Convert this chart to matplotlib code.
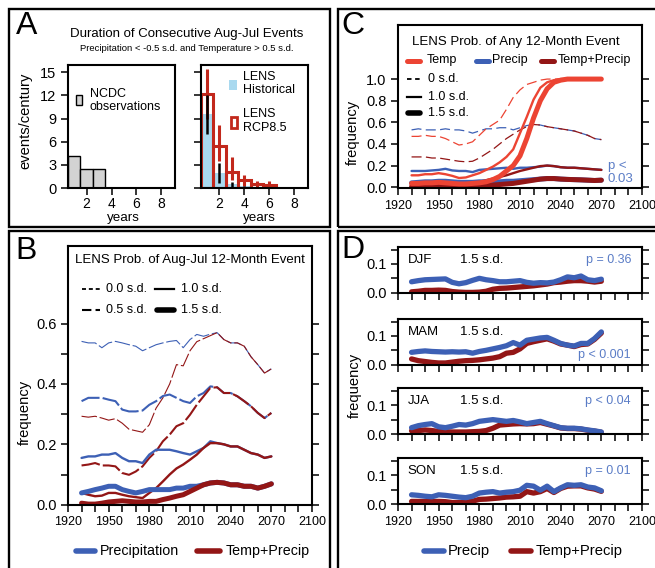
import numpy as np
import matplotlib
matplotlib.use('Agg')
import matplotlib.pyplot as plt
from matplotlib.lines import Line2D
from matplotlib.patches import Rectangle

plt.rcParams['font.family'] = ['Liberation Sans', 'DejaVu Sans']

W, H = 655, 568
BLUE = '#3d60b5'
DRED = '#931616'
RED = '#ec4433'
PBLUE = '#5a7cc6'
HRED = '#c2281c'
LBLUE = '#a9d9ef'

# ---- panel A data (events/century by duration in years)
dur = [1, 2, 3, 4, 5, 6]
ncdc = [4.1, 2.4, 2.4]
hist = [9.6, 1.9, 0.5, 0.2, 0.0, 0.0]
hist_lo = [7.0, 0.6, 0.0, 0.0]
hist_hi = [12.0, 3.2, 0.8, 0.3]
rcp = [12.2, 5.5, 2.1, 1.0, 0.55, 0.4]
rcp_lo = [9.0, 3.5, 1.0, 0.3, 0.1, 0.1]
rcp_hi = [15.4, 8.1, 4.0, 1.7, 0.9, 0.9]

years = np.arange(1930, 2071, 5)

# ---- panel B: Aug-Jul event probability
b_pr_00 = [0.541, 0.536, 0.536, 0.52, 0.536, 0.541, 0.536, 0.53, 0.525, 0.51, 0.52, 0.53, 0.536, 0.541, 0.544,
           0.52, 0.547, 0.564, 0.558, 0.565, 0.57, 0.547, 0.536, 0.536, 0.525, 0.49, 0.464, 0.436, 0.45]
b_tp_00 = [0.293, 0.29, 0.293, 0.287, 0.28, 0.285, 0.27, 0.25, 0.245, 0.24, 0.265, 0.32, 0.354, 0.40, 0.464,
           0.46, 0.51, 0.54, 0.55, 0.56, 0.57, 0.547, 0.536, 0.536, 0.525, 0.49, 0.464, 0.436, 0.45]
b_pr_05 = [0.343, 0.354, 0.354, 0.354, 0.348, 0.343, 0.315, 0.309, 0.309, 0.312, 0.331, 0.343, 0.36, 0.365, 0.354,
           0.343, 0.337, 0.359, 0.37, 0.392, 0.389, 0.37, 0.37, 0.359, 0.343, 0.326, 0.304, 0.287, 0.304]
b_tp_05 = [0.13, 0.133, 0.138, 0.13, 0.13, 0.127, 0.105, 0.099, 0.11, 0.127, 0.155, 0.177, 0.21, 0.232, 0.26,
           0.27, 0.298, 0.331, 0.359, 0.387, 0.389, 0.37, 0.37, 0.359, 0.343, 0.326, 0.304, 0.287, 0.304]
b_pr_10 = [0.155, 0.16, 0.16, 0.166, 0.166, 0.171, 0.155, 0.144, 0.144, 0.138, 0.166, 0.182, 0.182, 0.182, 0.177,
           0.171, 0.166, 0.177, 0.188, 0.21, 0.204, 0.2, 0.193, 0.193, 0.182, 0.171, 0.166, 0.155, 0.16]
b_tp_10 = [0.039, 0.033, 0.028, 0.03, 0.039, 0.039, 0.033, 0.028, 0.025, 0.022, 0.039, 0.055, 0.077, 0.10, 0.12,
           0.133, 0.149, 0.166, 0.188, 0.204, 0.204, 0.2, 0.193, 0.193, 0.182, 0.171, 0.166, 0.155, 0.16]
b_pr_15 = [0.039, 0.044, 0.05, 0.055, 0.061, 0.061, 0.05, 0.044, 0.039, 0.044, 0.05, 0.05, 0.05, 0.05, 0.055,
           0.055, 0.061, 0.061, 0.066, 0.072, 0.074, 0.072, 0.066, 0.066, 0.061, 0.061, 0.055, 0.061, 0.069]
b_tp_15 = [0.005, 0.002, 0.002, 0.005, 0.009, 0.011, 0.013, 0.011, 0.009, 0.009, 0.011, 0.011, 0.017, 0.022, 0.028,
           0.033, 0.044, 0.055, 0.066, 0.072, 0.074, 0.072, 0.066, 0.066, 0.061, 0.061, 0.055, 0.061, 0.069]

# ---- panel C: any 12-month event
c_t_00 = [0.47, 0.47, 0.48, 0.47, 0.47, 0.45, 0.42, 0.39, 0.40, 0.42, 0.48, 0.54, 0.58, 0.62, 0.72,
          0.83, 0.90, 0.95, 0.97, 0.99, 1.0, 1.0, 1.0, 1.0, 1.0, 1.0, 1.0, 1.0, 1.0]
c_t_10 = [0.11, 0.11, 0.12, 0.12, 0.13, 0.12, 0.105, 0.085, 0.09, 0.11, 0.13, 0.16, 0.19, 0.23, 0.28,
          0.35, 0.50, 0.65, 0.81, 0.92, 0.97, 0.99, 1.0, 1.0, 1.0, 1.0, 1.0, 1.0, 1.0]
c_t_15 = [0.035, 0.035, 0.04, 0.04, 0.045, 0.04, 0.035, 0.03, 0.03, 0.035, 0.04, 0.05, 0.07, 0.10, 0.15,
          0.20, 0.29, 0.45, 0.64, 0.80, 0.91, 0.97, 0.99, 1.0, 1.0, 1.0, 1.0, 1.0, 1.0]
c_p_00 = [0.53, 0.54, 0.53, 0.53, 0.53, 0.54, 0.53, 0.53, 0.52, 0.50, 0.52, 0.54, 0.54, 0.55, 0.55,
          0.53, 0.55, 0.57, 0.58, 0.575, 0.56, 0.55, 0.54, 0.53, 0.52, 0.50, 0.48, 0.45, 0.44]
c_tp_00 = [0.28, 0.28, 0.28, 0.27, 0.27, 0.26, 0.25, 0.24, 0.235, 0.24, 0.27, 0.31, 0.35, 0.40, 0.45,
           0.49, 0.53, 0.56, 0.58, 0.575, 0.56, 0.55, 0.54, 0.53, 0.52, 0.50, 0.48, 0.45, 0.44]
c_p_10 = [0.15, 0.15, 0.15, 0.155, 0.16, 0.17, 0.155, 0.15, 0.15, 0.14, 0.16, 0.165, 0.17, 0.175, 0.18,
          0.17, 0.18, 0.18, 0.185, 0.19, 0.20, 0.195, 0.185, 0.18, 0.18, 0.175, 0.17, 0.165, 0.16]
c_tp_10 = [0.035, 0.035, 0.03, 0.03, 0.035, 0.04, 0.035, 0.03, 0.03, 0.035, 0.05, 0.065, 0.08, 0.095, 0.11,
           0.13, 0.15, 0.165, 0.18, 0.195, 0.20, 0.195, 0.185, 0.18, 0.18, 0.175, 0.17, 0.165, 0.16]
c_p_15 = [0.04, 0.045, 0.05, 0.05, 0.055, 0.055, 0.05, 0.045, 0.045, 0.045, 0.05, 0.05, 0.05, 0.05, 0.055,
          0.055, 0.06, 0.065, 0.07, 0.075, 0.08, 0.08, 0.075, 0.072, 0.07, 0.068, 0.065, 0.062, 0.065]
c_tp_15 = [0.005, 0.005, 0.005, 0.005, 0.008, 0.01, 0.01, 0.01, 0.01, 0.01, 0.012, 0.015, 0.02, 0.025, 0.03,
           0.035, 0.045, 0.055, 0.065, 0.075, 0.08, 0.08, 0.075, 0.072, 0.07, 0.068, 0.065, 0.062, 0.065]

# ---- panel D: seasonal 1.5 s.d. events
seasons = ['DJF', 'MAM', 'JJA', 'SON']
p_labels = ['p = 0.36', 'p < 0.001', 'p < 0.04', 'p = 0.01']
d_djf_p = [0.038, 0.042, 0.045, 0.046, 0.047, 0.048, 0.036, 0.031, 0.035, 0.043, 0.05, 0.045, 0.042, 0.038, 0.038,
           0.040, 0.042, 0.036, 0.033, 0.035, 0.034, 0.037, 0.045, 0.055, 0.052, 0.058, 0.045, 0.042, 0.047]
d_djf_tp = [0.003, 0.005, 0.008, 0.008, 0.009, 0.008, 0.004, 0.002, 0.001, 0.001, 0.002, 0.005, 0.012, 0.015, 0.016,
            0.018, 0.02, 0.022, 0.024, 0.027, 0.03, 0.035, 0.037, 0.04, 0.042, 0.042, 0.04, 0.037, 0.04]
d_mam_p = [0.043, 0.046, 0.048, 0.046, 0.045, 0.044, 0.045, 0.044, 0.045, 0.04, 0.046, 0.05, 0.055, 0.06, 0.066,
           0.077, 0.068, 0.085, 0.089, 0.093, 0.095, 0.085, 0.074, 0.068, 0.065, 0.074, 0.074, 0.091, 0.114]
d_mam_tp = [0.02, 0.014, 0.011, 0.008, 0.006, 0.006, 0.009, 0.012, 0.014, 0.015, 0.017, 0.02, 0.023, 0.028, 0.04,
            0.043, 0.055, 0.074, 0.08, 0.085, 0.09, 0.082, 0.072, 0.068, 0.063, 0.07, 0.072, 0.088, 0.11]
d_jja_p = [0.022, 0.029, 0.033, 0.036, 0.025, 0.022, 0.027, 0.033, 0.031, 0.036, 0.044, 0.047, 0.05, 0.047, 0.044,
           0.047, 0.042, 0.036, 0.04, 0.044, 0.036, 0.029, 0.022, 0.02, 0.02, 0.018, 0.014, 0.011, 0.007]
d_jja_tp = [0.011, 0.012, 0.014, 0.012, 0.009, 0.008, 0.007, 0.007, 0.007, 0.008, 0.009, 0.012, 0.02, 0.031, 0.033,
            0.035, 0.036, 0.035, 0.036, 0.04, 0.034, 0.028, 0.021, 0.019, 0.019, 0.017, 0.013, 0.01, 0.006]
d_son_p = [0.032, 0.03, 0.027, 0.025, 0.032, 0.03, 0.027, 0.024, 0.022, 0.027, 0.038, 0.041, 0.043, 0.038, 0.041,
           0.043, 0.048, 0.065, 0.062, 0.048, 0.062, 0.043, 0.056, 0.067, 0.065, 0.067, 0.059, 0.056, 0.046]
d_son_tp = [0.009, 0.009, 0.009, 0.009, 0.009, 0.008, 0.005, 0.005, 0.006, 0.01, 0.016, 0.017, 0.019, 0.021, 0.024,
            0.025, 0.027, 0.043, 0.038, 0.043, 0.054, 0.04, 0.054, 0.062, 0.063, 0.063, 0.056, 0.052, 0.044]
d_precip = [d_djf_p, d_mam_p, d_jja_p, d_son_p]
d_tempprecip = [d_djf_tp, d_mam_tp, d_jja_tp, d_son_tp]

FS = 9        # small text, x tick labels
YFS = 10.5    # y tick labels
LFS = 10.6    # axis labels, bottom legends
fig = plt.figure(figsize=(W / 100, H / 100), dpi=100)


def px_axes(x0, y0, x1, y1):
    return fig.add_axes([x0 / W, 1 - y1 / H, (x1 - x0) / W, (y1 - y0) / H])


def ftext(x, y, s, **kw):
    kw.setdefault('fontsize', FS)
    kw.setdefault('va', 'center')
    fig.text(x / W, 1 - y / H, s, **kw)


def fline(x0, x1, y, **kw):
    kw.setdefault('color', 'black')
    fig.add_artist(Line2D([x0 / W, x1 / W], [1 - y / H, 1 - y / H], transform=fig.transFigure, **kw))


def style(ax, right=True):
    for s in ax.spines.values():
        s.set_linewidth(1.5)
    ax.tick_params(which='both', direction='out', length=5, width=1.1, pad=3.3,
                   right=right, top=False)
    ax.tick_params(axis='x', labelsize=FS)
    ax.tick_params(axis='y', labelsize=YFS)


def time_axes(ax, ylim, yticks, ylabels, xlabels=True):
    ax.set_xlim(1920, 2100)
    ax.set_ylim(*ylim)
    xt = np.arange(1920, 2101, 10)
    ax.set_xticks(xt)
    ax.set_xticklabels([str(t) if (t - 1920) % 30 == 0 else '' for t in xt])
    ax.set_yticks(yticks)
    ax.set_yticklabels(ylabels)
    style(ax)
    if not xlabels:
        ax.tick_params(labelbottom=False)


def tline(ax, y, color, lw, dashes=None):
    kw = dict(color=color, lw=lw, solid_capstyle='round', solid_joinstyle='round')
    if dashes is not None:
        kw.update(dashes=dashes, dash_capstyle='butt')
    ax.plot(years, y, **kw)


# panel frames
for x0, y0 in [(8.7, 9.5), (338, 9.5), (8.7, 230.5), (338, 230.5)]:
    w = 320.8 if x0 < 100 else 330
    h = 217.2 if y0 < 100 else 350
    fig.add_artist(Rectangle((x0 / W, 1 - (y0 + h) / H), w / W, h / H, transform=fig.transFigure,
                             fill=False, lw=1.7, ec='black', clip_on=False))

for s, x, y in [('A', 15.5, 26.5), ('B', 15.5, 251), ('C', 341.5, 26.5), ('D', 341.5, 250)]:
    ftext(x, y, s, fontsize=23, ha='left')

# ---------------- A
ftext(186.7, 34.5, 'Duration of Consecutive Aug-Jul Events', fontsize=9.5, ha='center')
ftext(186.7, 48.5, 'Precipitation < -0.5 s.d. and Temperature > 0.5 s.d.', fontsize=6.8, ha='center')

axA1 = px_axes(68, 64.5, 175, 188)
axA1.bar([1, 2, 3], ncdc, width=1, color='#d3d3d3', edgecolor='black', lw=1)
axA2 = px_axes(200.7, 64.5, 308, 188)
axA2.bar(dur, hist, width=1, color=LBLUE, lw=0)
axA2.bar(dur, rcp, width=1, fill=False, edgecolor=HRED, lw=2.2)
axA2.vlines(dur, rcp_lo, rcp_hi, color=HRED, lw=2.2)
axA2.vlines(dur[:4], hist_lo, hist_hi, color='black', lw=1.8)
for ax in (axA1, axA2):
    ax.set_xlim(0.5, 9.1)
    ax.set_ylim(0, 16)
    ax.set_xticks([2, 4, 6, 8])
    ax.set_yticks([0, 3, 6, 9, 12, 15])
    style(ax, right=False)
    ax.tick_params(axis='x', labelsize=10, pad=1.2)
axA2.tick_params(labelleft=False)
ftext(25, 121, 'events/century', fontsize=LFS, rotation=90, ha='center')
ftext(123, 218.5, 'years', fontsize=9.6, ha='center')
ftext(259, 218.5, 'years', fontsize=9.6, ha='center')

fig.add_artist(Rectangle((76 / W, 1 - 105 / H), 5.7 / W, 10 / H, transform=fig.transFigure,
                         fc='#d3d3d3', ec='black', lw=1))
ftext(90, 100.5, 'NCDC\nobservations', ha='left', linespacing=1.15)
fig.add_artist(Rectangle((229.3 / W, 1 - 90 / H), 8 / W, 10 / H, transform=fig.transFigure,
                         fc=LBLUE, lw=0))
ftext(243, 83.5, 'LENS\nHistorical', ha='left', linespacing=1.15)
fig.add_artist(Rectangle((230.5 / W, 1 - 128 / H), 6 / W, 11 / H, transform=fig.transFigure,
                         fill=False, ec=HRED, lw=2))
ftext(243, 121, 'LENS\nRCP8.5', ha='left', linespacing=1.15)

# ---------------- B
axB = px_axes(68, 246, 312, 504.7)
time_axes(axB, (0, 0.857), np.arange(0, 0.61, 0.1), ['0.0', '', '0.2', '', '0.4', '', '0.6'])
ftext(25, 412, 'frequency', fontsize=LFS, rotation=90, ha='center')
for pr, tp, lw, ds in [(b_pr_00, b_tp_00, 0.8, (14, 2.5)), (b_pr_05, b_tp_05, 1.5, (9, 1.5)),
                       (b_pr_10, b_tp_10, 1.7, None), (b_pr_15, b_tp_15, 3.6, None)]:
    tline(axB, pr, BLUE, lw, ds)
    tline(axB, tp, DRED, lw, ds)

ftext(190, 260.5, 'LENS Prob. of Aug-Jul 12-Month Event', fontsize=9.5, ha='center')
fline(82, 100, 289, lw=1.3, dashes=(2.2, 1.6))
ftext(106.5, 289, '0.0 s.d.', ha='left')
fline(155, 173.5, 289, lw=1.6)
ftext(181, 289, '1.0 s.d.', ha='left')
fline(82, 100, 310, lw=1.5, dashes=(4.5, 2))
ftext(106.5, 310, '0.5 s.d.', ha='left')
fline(157, 174, 310, lw=4, solid_capstyle='round')
ftext(181, 310, '1.5 s.d.', ha='left')

fline(76, 95, 551, color=BLUE, lw=4, solid_capstyle='round')
ftext(100, 551, 'Precipitation', fontsize=10.3, ha='left')
fline(197, 220, 551, color=DRED, lw=4, solid_capstyle='round')
ftext(226, 551, 'Temp+Precip', fontsize=10.3, ha='left')

# ---------------- C
axC = px_axes(398, 25, 642, 188.5)
time_axes(axC, (-0.012, 1.5), np.arange(0, 1.01, 0.2), ['0.0', '0.2', '0.4', '0.6', '0.8', '1.0'])
ftext(353, 132, 'frequency', fontsize=LFS, rotation=90, ha='center')
for y, c, lw, ds in [(c_p_00, BLUE, 0.9, (8, 3.5)), (c_tp_00, DRED, 0.9, (8, 3.5)),
                     (c_p_10, BLUE, 1.7, None), (c_tp_10, DRED, 1.7, None),
                     (c_p_15, BLUE, 3.6, None), (c_tp_15, DRED, 3.6, None),
                     (c_t_00, RED, 0.9, (8, 3.5)), (c_t_10, RED, 1.7, None), (c_t_15, RED, 3.6, None)]:
    tline(axC, y, c, lw, ds)

ftext(516, 41.5, 'LENS Prob. of Any 12-Month Event', fontsize=9.5, ha='center')
for x0, c, x1, lab in [(407, RED, 427, 'Temp'), (475.5, BLUE, 492, 'Precip'), (541, DRED, 558, 'Temp+Precip')]:
    fline(x0, x0 + 13, 60.5, color=c, lw=3.6, solid_capstyle='round')
    ftext(x1, 60.5, lab, ha='left')
fline(407, 421, 79, lw=1.3, dashes=(2.5, 2))
ftext(428, 79, '0 s.d.', ha='left')
fline(407, 421, 96.7, lw=1.6)
ftext(428, 96.7, '1.0 s.d.', ha='left')
fline(408, 420, 113.3, lw=4, solid_capstyle='round')
ftext(428, 113.3, '1.5 s.d.', ha='left')
ftext(607.5, 172.5, 'p <\n0.03', fontsize=9.5, ha='left', color=PBLUE, linespacing=1.1)

# ---------------- D
d_tops = [246.7, 318.7, 388, 458]
for i, top in enumerate(d_tops):
    ax = px_axes(398, top, 642, top + 46)
    time_axes(ax, (0, 0.16), [0, 0.05, 0.1, 0.15], ['0.0', '', '0.1', ''], xlabels=(i == 3))
    tline(ax, d_tempprecip[i], DRED, 3.8)
    tline(ax, d_precip[i], BLUE, 3.8)
    ax.text(0.04, 0.72, seasons[i], transform=ax.transAxes, fontsize=9.5, va='center')
    ax.text(0.255, 0.72, '1.5 s.d.', transform=ax.transAxes, fontsize=9.5, va='center')
    py = 0.22 if i == 1 else 0.72
    ax.text(0.955, py, p_labels[i], transform=ax.transAxes, fontsize=FS, va='center', ha='right',
            color=PBLUE)
ftext(355, 385, 'frequency', fontsize=LFS, rotation=90, ha='center')

fline(424, 444, 551, color=BLUE, lw=4, solid_capstyle='round')
ftext(448, 551, 'Precip', fontsize=LFS, ha='left')
fline(511, 531, 551, color=DRED, lw=4, solid_capstyle='round')
ftext(536, 551, 'Temp+Precip', fontsize=LFS, ha='left')

fig.savefig('out.png', dpi=100)
